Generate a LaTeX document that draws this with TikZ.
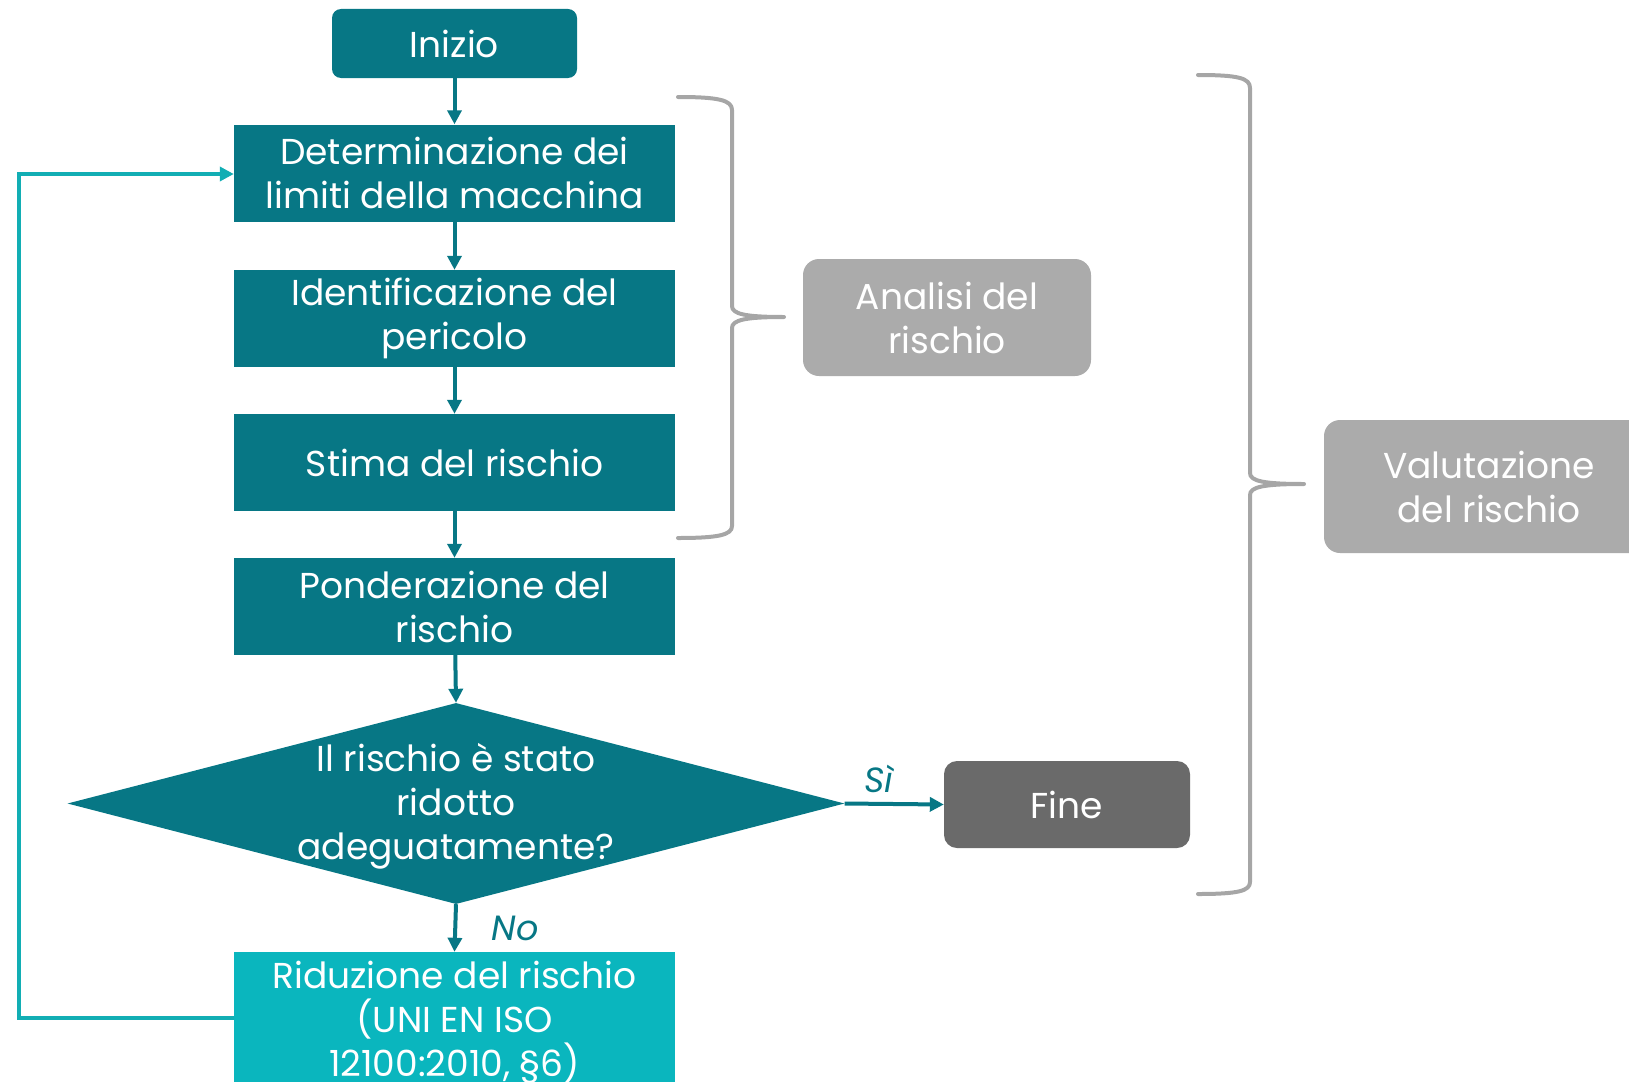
\documentclass[tikz,border=0pt]{standalone}
\usepackage{fontspec}
\setmainfont{Poppins}
\usetikzlibrary{shapes.geometric,arrows.meta}

\definecolor{tealdark}{HTML}{077785}
\definecolor{teallight}{HTML}{0AB6BE}
\definecolor{loopteal}{HTML}{12AEB4}
\definecolor{boxgray}{HTML}{ABABAB}
\definecolor{endgray}{HTML}{6A6A6A}
\definecolor{bracegray}{HTML}{A6A6A6}

\tikzset{
  txt/.style={text=white, font=\fontsize{36}{44}\selectfont, align=center, inner sep=0pt},
  stepbox/.style={txt, rectangle, fill=tealdark, minimum width=441pt, minimum height=97pt},
  startbox/.style={txt, rectangle, rounded corners=9pt, fill=tealdark, minimum width=245pt, minimum height=69pt},
  fixbox/.style={txt, rectangle, fill=teallight, minimum width=441pt, minimum height=140pt},
  endbox/.style={txt, rectangle, rounded corners=13pt, fill=endgray, minimum width=246pt, minimum height=87pt},
  groupbox/.style={txt, rectangle, rounded corners=16pt, fill=boxgray},
  decision/.style={diamond, fill=tealdark, inner sep=0pt, minimum width=777pt, minimum height=201pt},
  flow/.style={draw=tealdark, line width=4pt, -{Triangle[length=14pt,width=14pt]}},
  loopflow/.style={draw=loopteal, line width=4pt, -{Triangle[length=14pt,width=14pt]}},
  bracket/.style={draw=bracegray, line width=4pt, line cap=round, line join=round},
  answer/.style={text=tealdark, font=\fontsize{35}{40}\selectfont\itshape, inner sep=0pt}
}

\begin{document}
\begin{tikzpicture}[x=1pt, y=-1pt]
\useasboundingbox (0,0) rectangle (1629,1081);

% main column
\node[startbox] (start) at (454.5,43.5) {Inizio};
\node[stepbox] (limits) at (454.5,173) {Determinazione dei\\limiti della macchina};
\node[stepbox] (hazard) at (454.5,318.5) {Identificazione del\\pericolo};
\node[stepbox] (estimate) at (454.5,462.5) {Stima del rischio};
\node[stepbox] (weigh) at (454.5,606.5) {Ponderazione del\\rischio};
\node[decision] (check) at (456,803.5) {};
\node[txt] (checktext) at (456,806) {Il rischio è stato\\ridotto\\adeguatamente?};
\node[fixbox] (reduce) at (454.5,1022) {Riduzione del rischio\\(UNI EN ISO\\12100:2010, §6)};
\node[endbox] (finish) at (1067,804.5) {Fine};

% grouping labels
\node[groupbox, minimum width=288pt, minimum height=117pt] (analysis) at (947,317.5) {Analisi del\\rischio};
\node[groupbox, minimum width=330pt, minimum height=133pt] (assessment) at (1489,486.5) {Valutazione\\del rischio};

% connectors
\draw[flow] (start) -- (limits);
\draw[flow] (limits) -- (hazard);
\draw[flow] (hazard) -- (estimate);
\draw[flow] (estimate) -- (weigh);
\draw[flow] (weigh) -- (check.north);
\draw[flow] (check.east) -- (finish.west);
\draw[flow] (check.south) -- (reduce.north);
\coordinate (loopbottom) at (19,1018);
\coordinate (looptop) at (19,174);
\draw[loopflow] (reduce.west |- loopbottom) -- (loopbottom) -- (looptop) -- (limits.west |- looptop);

\node[answer] (yes) at (879,779) {Sì};
\node[answer] (no) at (515,928) {No};

% curly brackets
\draw[bracket] (678,97) .. controls (718,97) and (732,100) .. (732,110)
  -- (732,306) .. controls (732,314) and (745,317) .. (784,317)
  .. controls (745,317) and (732,320) .. (732,328)
  -- (732,526) .. controls (732,535) and (718,538) .. (678,538);
\draw[bracket] (1198,75) .. controls (1238,75) and (1250,78) .. (1250,88)
  -- (1250,473) .. controls (1250,481) and (1263,484) .. (1304,484)
  .. controls (1263,484) and (1250,487) .. (1250,495)
  -- (1250,882) .. controls (1250,891) and (1238,894) .. (1198,894);
\end{tikzpicture}
\end{document}
